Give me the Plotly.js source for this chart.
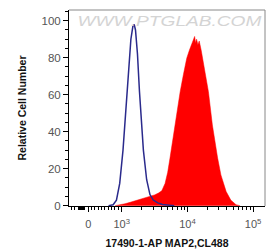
<!DOCTYPE html>
<html>
<head>
<meta charset="utf-8">
<script src="https://cdn.plot.ly/plotly-3.0.1.min.js"></script>
<style>html,body{margin:0;padding:0;background:#fff;}#chart{width:267px;height:251px;}</style>
</head>
<body>
<div id="chart"></div>
<script>
// x values are positions on the logicle display scale (decades: 3 = 10^3)
const zeroPos = 2.49;
const blueX = [2.80, 2.87, 2.92, 2.97, 3.02, 3.06, 3.10, 3.14, 3.17, 3.19, 3.21, 3.24, 3.27, 3.29, 3.33, 3.38, 3.43, 3.48, 3.55, 3.62, 3.70, 3.80];
const blueY = [0, 0.5, 3, 12, 30, 50, 72, 90, 97, 98, 95, 82, 62, 50, 30, 14, 6, 3, 1.5, 0.6, 0.2, 0];
const redX = [2.90, 2.95, 3.05, 3.13, 3.20, 3.28, 3.35, 3.43, 3.50, 3.56, 3.61, 3.66, 3.70, 3.735, 3.77, 3.81, 3.85, 3.89, 3.94, 3.99, 4.03, 4.07, 4.09, 4.11, 4.125, 4.14, 4.16, 4.18, 4.21, 4.23, 4.27, 4.32, 4.38, 4.42, 4.46, 4.51, 4.55, 4.59, 4.66, 4.74, 4.80];
const redY = [0, 0.3, 1, 1.8, 2.5, 3.2, 4, 5, 5.8, 6.8, 8, 12, 18, 25.7, 34, 43.6, 52, 61.6, 71, 79.7, 84, 88, 90, 91.5, 88, 90, 87, 89, 84, 79.7, 71, 61.6, 43.6, 34, 25.7, 16.6, 11.5, 7.6, 3, 0.5, 0];
const xTickVals = [zeroPos, 3, 4, 5];
const xTickText = ["0", "10<sup>3</sup>", "10<sup>4</sup>", "10<sup>5</sup>"];
const linearMinor = [-500, -400, -300, -250, -225, -200, -175, -150, -125, -100, 100, 200, 300, 400, 500, 600, 700, 800, 900];
const logMinorMult = [2, 3, 4, 5, 6, 7, 8, 9];
const logMinorDecades = [3, 4];
const xTitle = "17490-1-AP MAP2,CL488";
const yTitle = "Relative Cell Number";
const watermark = "WWW.PTGLAB.COM";

const minorVals = linearMinor.map(v => zeroPos + (3 - zeroPos) * v / 1000);
logMinorDecades.forEach(d => logMinorMult.forEach(m => minorVals.push(d + Math.log10(m))));

const font = "Liberation Sans, Arial, sans-serif";
const xr = [2.198, 5.181];

const data = [
  {x: redX, y: redY, type: 'scatter', mode: 'lines', fill: 'tozeroy',
   fillcolor: '#ff0000', line: {color: '#ff0000', width: 0.5}, hoverinfo: 'skip'},
  {x: blueX, y: blueY, type: 'scatter', mode: 'lines',
   line: {color: '#2a2a8c', width: 1.5}, hoverinfo: 'skip'},
  {x: [xr[0]], y: [0], xaxis: 'x2', type: 'scatter', mode: 'markers',
   marker: {opacity: 0}, hoverinfo: 'skip'}
];

const layout = {
  width: 267, height: 251,
  margin: {l: 69, r: 2, t: 10, b: 45},
  paper_bgcolor: '#fff', plot_bgcolor: '#fff',
  showlegend: false,
  font: {family: font, size: 11, color: '#444'},
  xaxis: {
    range: xr, tickvals: xTickVals, ticktext: xTickText,
    ticks: 'outside', ticklen: 5, tickcolor: '#000', tickwidth: 1,
    showline: true, linecolor: '#000', linewidth: 1,
    showgrid: false, zeroline: false,
    tickfont: {family: font, size: 11, color: '#555'},
    ticklabelstandoff: 3,
    title: {text: xTitle, font: {family: font, size: 10.5, color: '#111', weight: 'bold'}, standoff: 10}
  },
  xaxis2: {
    range: xr, overlaying: 'x', anchor: 'y', side: 'bottom',
    tickvals: minorVals, ticks: 'outside', ticklen: 3, tickcolor: '#000', tickwidth: 1,
    showticklabels: false, showline: false, showgrid: false, zeroline: false
  },
  yaxis: {
    range: [-0.2, 105.8], tickvals: [0, 20, 40, 60, 80, 100],
    ticks: 'outside', ticklen: 5, tickcolor: '#000', tickwidth: 1,
    minor: {tickvals: [5,10,15,25,30,35,45,50,55,65,70,75,85,90,95,105], ticks: 'outside', ticklen: 3, tickcolor: '#000', showgrid: false},
    showline: true, linecolor: '#000', linewidth: 1,
    showgrid: false, zeroline: false,
    tickfont: {family: font, size: 11.5, color: '#555'},
    title: {text: yTitle, font: {family: font, size: 10.5, color: '#111', weight: 'bold'}, standoff: 12}
  },
  shapes: [
    {type: 'line', xref: 'paper', yref: 'paper', x0: 0, x1: 1, y0: 1, y1: 1, line: {color: '#888', width: 1}},
    {type: 'line', xref: 'paper', yref: 'paper', x0: 1, x1: 1, y0: 0, y1: 1, line: {color: '#888', width: 1}}
  ],
  annotations: [
    {text: watermark, xref: 'paper', yref: 'paper', x: 0.515, y: 0.945, xanchor: 'center', yanchor: 'middle',
     showarrow: false, font: {family: font, size: 14, color: '#d4d4d4', style: 'italic'}}
  ]
};

Plotly.newPlot('chart', data, layout, {displayModeBar: false, staticPlot: true}).then(() => {
  const t = document.querySelector('.annotation-text');
  if (t) { t.setAttribute('textLength', '184'); t.setAttribute('lengthAdjust', 'spacingAndGlyphs'); }
});
</script>
</body>
</html>
